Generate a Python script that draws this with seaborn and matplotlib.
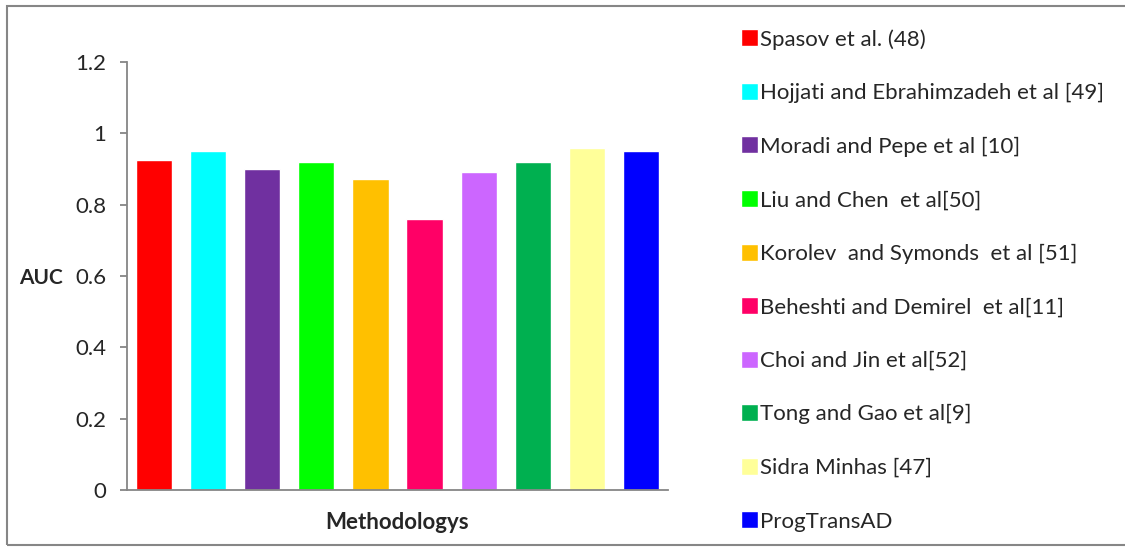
import matplotlib
matplotlib.use("Agg")
import matplotlib.pyplot as plt
from matplotlib.patches import Rectangle
import seaborn as sns
import pandas as pd

methods = [
    "Spasov et al. (48)",
    "Hojjati and Ebrahimzadeh et al [49]",
    "Moradi and Pepe et al [10]",
    "Liu and Chen  et al[50]",
    "Korolev  and Symonds  et al [51]",
    "Beheshti and Demirel  et al[11]",
    "Choi and Jin et al[52]",
    "Tong and Gao et al[9]",
    "Sidra Minhas [47]",
    "ProgTransAD",
]
auc = [0.924, 0.950, 0.899, 0.921, 0.871, 0.759, 0.891, 0.921, 0.958, 0.950]
colors = ["#FF0000", "#00FFFF", "#7030A0", "#00FF00", "#FFC000",
          "#FF0066", "#CC66FF", "#00B050", "#FFFF99", "#0000FF"]
yticks = [0, 0.2, 0.4, 0.6, 0.8, 1, 1.2]
ytick_labels = ["0", "0.2", "0.4", "0.6", "0.8", "1", "1.2"]

sns.set_theme(style="white")
plt.rcParams["font.family"] = ["Lato", "DejaVu Sans"]
GRAY = "#868686"
FS = 16

df = pd.DataFrame({"method": methods, "auc": auc})

fig = plt.figure(figsize=(11.25, 5.48), dpi=100)
ax = fig.add_axes([127 / 1125, 1 - 490 / 548, (668 - 127) / 1125, (490 - 62) / 548])

sns.barplot(data=df, x="method", y="auc", hue="method", palette=colors,
            order=methods, hue_order=methods, dodge=False, width=0.67,
            saturation=1, legend=False, ax=ax)

ax.set_xlim(-0.5, len(methods) - 0.5)
ax.set_ylim(0, 1.2)
ax.set_yticks(yticks)
ax.set_yticklabels(ytick_labels, fontsize=FS)
ax.set_xticks([])
ax.tick_params(axis="y", direction="out", length=5, width=1.3, color=GRAY,
               pad=10, left=True)
for side in ("top", "right"):
    ax.spines[side].set_visible(False)
for side in ("left", "bottom"):
    ax.spines[side].set_color(GRAY)
    ax.spines[side].set_linewidth(1.3)

ax.set_xlabel("Methodologys", fontsize=FS, fontweight="bold", labelpad=16)
ax.set_ylabel("AUC", fontsize=15, fontweight="bold", rotation=0,
              ha="right", va="center")
ax.yaxis.set_label_coords(-0.118, 0.495)

handles = [p for p in ax.patches][:len(methods)]
fig.legend(handles, methods, loc="upper left",
           bbox_to_anchor=(741 / 1125, 1 - 29 / 548),
           frameon=False, fontsize=FS, handlelength=0.75, handleheight=0.8,
           handletextpad=0.1, labelspacing=1.5, borderpad=0, borderaxespad=0)

# Outer frame around the whole chart
fig.patches.append(Rectangle((7 / 1125, 1 - 545 / 548), 1.2, (545 - 6) / 548,
                             transform=fig.transFigure, fill=False,
                             edgecolor=GRAY, linewidth=1.5, clip_on=False))

fig.savefig("out.png", dpi=100)
